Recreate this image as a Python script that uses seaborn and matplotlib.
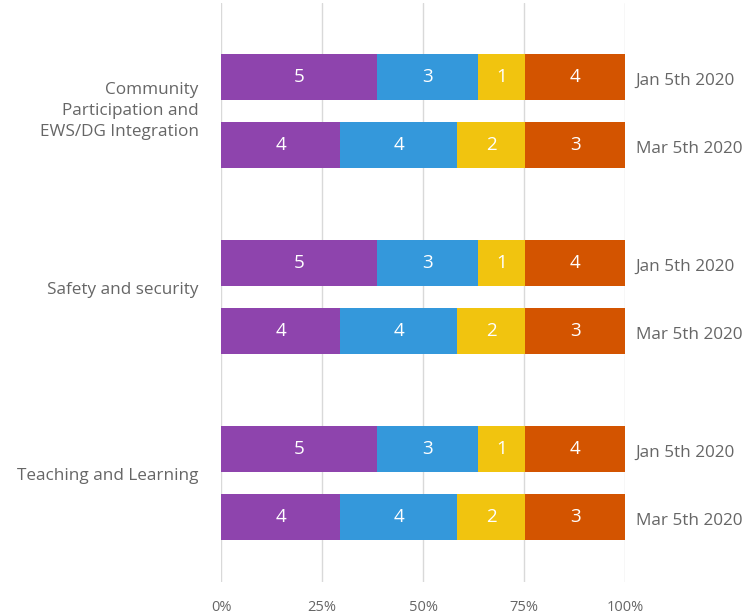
import matplotlib
matplotlib.use("Agg")
import matplotlib.pyplot as plt
import seaborn as sns
import pandas as pd

# ---- data ----
groups = ["Community\nParticipation and\nEWS/DG Integration", "Safety and security", "Teaching and Learning"]
dates = ["Jan 5th 2020", "Mar 5th 2020"]
segments = ["S1", "S2", "S3", "S4"]
seg_colors = ["#8E44AD", "#3498DB", "#F1C40F", "#D35400"]
counts_jan = [5, 3, 1, 4]
counts_mar = [4, 4, 2, 3]
share_jan = [38.6, 25.0, 11.6, 24.8]   # bar widths (%) as drawn
share_mar = [29.5, 29.0, 16.8, 24.8]
x_ticks = [0, 25, 50, 75, 100]
x_ticklabels = ["0%", "25%", "50%", "75%", "100%"]

sns.set_theme(style="white")
plt.rcParams["font.family"] = ["Open Sans", "DejaVu Sans"]
TXT = "#666666"

# layout: one unit = spacing between the two bars in a group
GROUP_STEP = 186 / 68

rows = []
for gi, g in enumerate(groups):
    for di, (d, cnt, sh) in enumerate(zip(dates, [counts_jan, counts_mar], [share_jan, share_mar])):
        ypos = gi * GROUP_STEP + di
        cum = 0
        for si, s in enumerate(segments):
            start = cum
            cum += sh[si]
            rows.append(dict(group=g, date=d, seg=s, ypos=ypos, start=start, end=cum, count=cnt[si]))
df = pd.DataFrame(rows)

fig = plt.figure(figsize=(7.53, 6.14), dpi=100)
ax = fig.add_axes([221 / 753, 1 - 582 / 614, (625 - 221) / 753, (582 - 3) / 614])

# draw stacked bars: longest cumulative first, then overlay shorter
for si in reversed(range(len(segments))):
    sub = df[df.seg == segments[si]]
    sns.barplot(data=sub, x="end", y="ypos", orient="y", native_scale=True,
                color=seg_colors[si], saturation=1, width=46 / 68, linewidth=0,
                errorbar=None, ax=ax)

for _, r in df.iterrows():
    ax.text((r.start + r.end) / 2, r.ypos, str(r["count"]), color="white",
            ha="center", va="center", fontsize=13.5)

# date labels on the right
for gi in range(len(groups)):
    for di, d in enumerate(dates):
        ax.text(102.6, gi * GROUP_STEP + di + 0.06, d, ha="left", va="center",
                color=TXT, fontsize=12.3, clip_on=False)
    ymid = gi * GROUP_STEP + 0.5
    ax.text(-5.5, ymid - (0.0 if gi == 0 else 0.1), groups[gi], ha="right", va="center",
            color=TXT, fontsize=12.3, linespacing=1.45, multialignment="right", clip_on=False)

ax.set_xlim(0, 100)
ax.set_ylim((582 - 77) / 68, (3 - 77) / 68)
ax.set_xticks(x_ticks)
ax.set_xticklabels(x_ticklabels, color=TXT, fontsize=10.5)
ax.set_yticks([])
ax.set_xlabel("")
ax.set_ylabel("")
ax.tick_params(axis="x", length=0, pad=13)
ax.grid(axis="x", color="#d9d9d9", linewidth=1)
ax.set_axisbelow(True)
for sp in ax.spines.values():
    sp.set_visible(False)

fig.savefig("out.png", dpi=100, facecolor="white")
